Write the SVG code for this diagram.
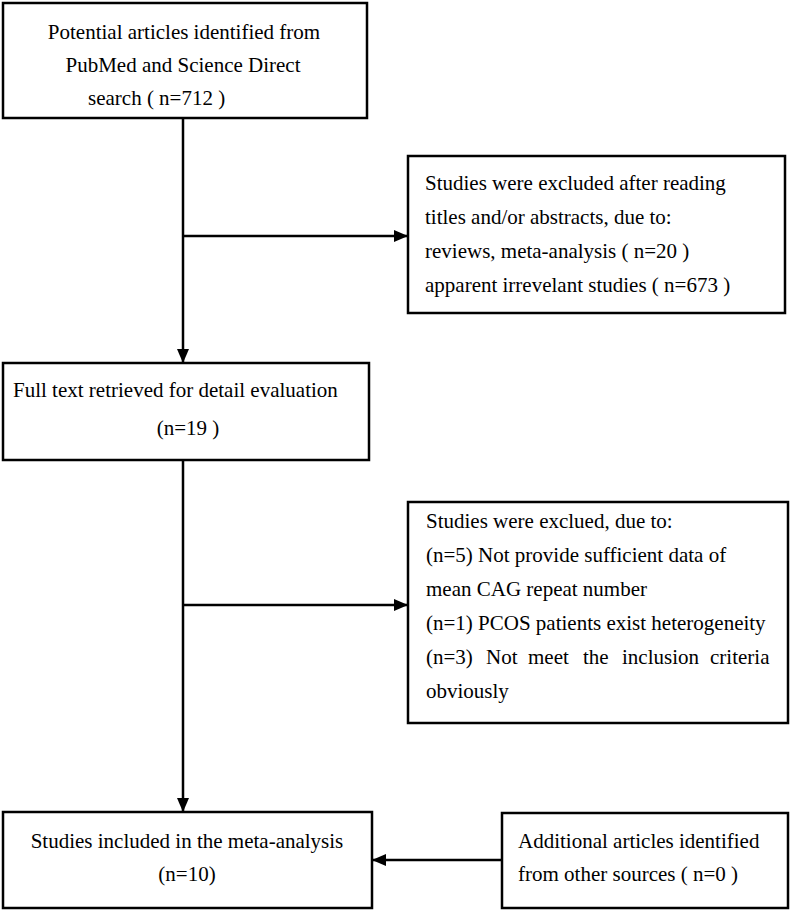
<svg xmlns="http://www.w3.org/2000/svg" width="791" height="913" viewBox="0 0 791 913">
<defs>
<style>
.box{fill:#fff;stroke:#000;stroke-width:2.5}
.t{font-family:"Liberation Serif","Times New Roman",serif;font-size:21px;fill:#000}
.c{text-anchor:middle}
.ln{fill:none;stroke:#000;stroke-width:2.5}
</style>
<marker id="ah" markerUnits="userSpaceOnUse" markerWidth="14" markerHeight="12" refX="13" refY="6" orient="auto">
<path d="M0,0 L14,6 L0,12 Z" fill="#000"/>
</marker>
</defs>
<rect width="791" height="913" fill="#fff"/>
<g id="connectors">
<line class="ln" x1="183" y1="118" x2="183" y2="362" marker-end="url(#ah)"/>
<line class="ln" x1="183" y1="236" x2="407" y2="236" marker-end="url(#ah)"/>
<line class="ln" x1="183" y1="460" x2="183" y2="811" marker-end="url(#ah)"/>
<line class="ln" x1="183" y1="605" x2="407" y2="605" marker-end="url(#ah)"/>
<line class="ln" x1="502" y1="860" x2="373" y2="860" marker-end="url(#ah)"/>
</g>
<g id="n1">
<rect class="box" x="3" y="3" width="364" height="115"/>
<text class="t c" x="184" y="39">Potential articles identified from</text>
<text class="t c" x="183" y="72">PubMed and Science Direct</text>
<text class="t" x="88" y="105">search ( n=712 )</text>
</g>
<g id="n2">
<rect class="box" x="408" y="156" width="377" height="157"/>
<text class="t" x="425" y="190">Studies were excluded after reading</text>
<text class="t" x="425" y="224">titles and/or abstracts, due to:</text>
<text class="t" x="425" y="258">reviews, meta-analysis ( n=20 )</text>
<text class="t" x="425" y="292">apparent irrevelant studies ( n=673 )</text>
</g>
<g id="n3">
<rect class="box" x="3" y="363" width="366" height="97"/>
<text class="t" x="13" y="397">Full text retrieved for detail evaluation</text>
<text class="t c" x="188" y="435">(n=19 )</text>
</g>
<g id="n4">
<rect class="box" x="408" y="502" width="380" height="221"/>
<text class="t" x="426" y="528">Studies were exclued, due to:</text>
<text class="t" x="426" y="562">(n=5) Not provide sufficient data of</text>
<text class="t" x="426" y="596">mean CAG repeat number</text>
<text class="t" x="426" y="630">(n=1) PCOS patients exist heterogeneity</text>
<text class="t" y="664"><tspan x="426">(n=3)</tspan><tspan x="486">Not</tspan><tspan x="528">meet</tspan><tspan x="583">the</tspan><tspan x="622">inclusion</tspan><tspan x="710">criteria</tspan></text>
<text class="t" x="426" y="698">obviously</text>
</g>
<g id="n5">
<rect class="box" x="3" y="812" width="369" height="96"/>
<text class="t c" x="187" y="848">Studies included in the meta-analysis</text>
<text class="t c" x="187" y="881">(n=10)</text>
</g>
<g id="n6">
<rect class="box" x="502" y="813" width="286" height="95"/>
<text class="t" x="518" y="848">Additional articles identified</text>
<text class="t" x="518" y="881">from other sources ( n=0 )</text>
</g>
</svg>
